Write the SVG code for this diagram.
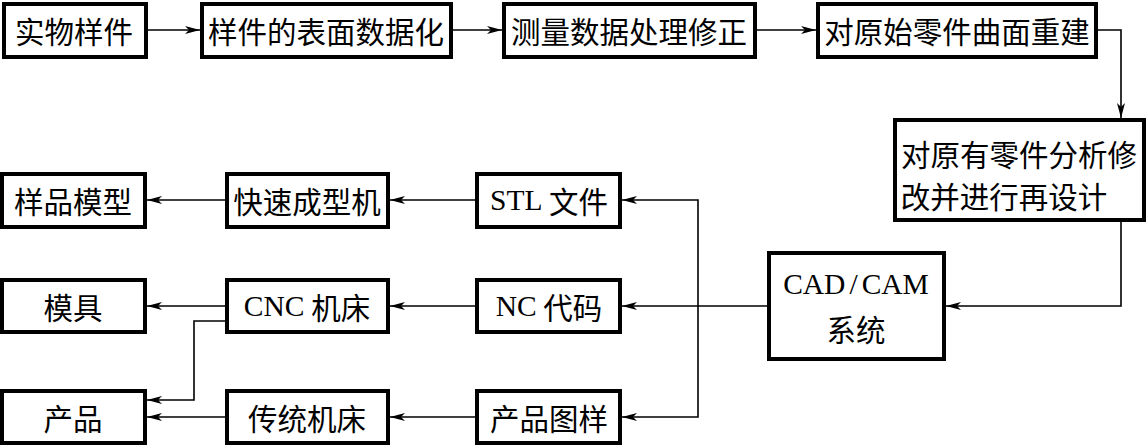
<svg xmlns="http://www.w3.org/2000/svg" width="1148" height="447" viewBox="0 0 1148 447">
<style>
.box{fill:#fff;stroke:#000;stroke-width:4}
.t{font-family:"Noto Sans CJK SC","Liberation Serif",sans-serif;font-size:29.5px;fill:#000;text-anchor:middle;dominant-baseline:central}
.l{font-family:"Liberation Serif","Noto Sans CJK SC",serif}
.c{fill:none;stroke:#000;stroke-width:1.6}
</style>
<defs>
<marker id="ah" markerUnits="userSpaceOnUse" markerWidth="16" markerHeight="10" refX="15" refY="4.5" orient="auto">
<path d="M0,0.5 L15,4.5 L0,8.5 L4,4.5 z" fill="#000"/>
</marker>
</defs>
<rect width="1148" height="447" fill="#fff"/>
<g id="connectors">
<path class="c" marker-end="url(#ah)" d="M148,30 H200"/>
<path class="c" marker-end="url(#ah)" d="M453,30 H502"/>
<path class="c" marker-end="url(#ah)" d="M757,30 H816"/>
<path class="c" marker-end="url(#ah)" d="M1098,30 H1121 V118"/>
<path class="c" marker-end="url(#ah)" d="M1121,222 V306 H946"/>
<path class="c" marker-end="url(#ah)" d="M767,306 H622"/>
<path class="c" marker-end="url(#ah)" d="M698,306 V200 H622"/>
<path class="c" marker-end="url(#ah)" d="M698,306 V417 H622"/>
<path class="c" marker-end="url(#ah)" d="M475,200 H390"/>
<path class="c" marker-end="url(#ah)" d="M225,200 H147"/>
<path class="c" marker-end="url(#ah)" d="M475,306 H390"/>
<path class="c" marker-end="url(#ah)" d="M225,306 H147"/>
<path class="c" marker-end="url(#ah)" d="M225,321 H194 V400 H147"/>
<path class="c" marker-end="url(#ah)" d="M475,417 H390"/>
<path class="c" marker-end="url(#ah)" d="M225,417 H147"/>
</g>
<g id="n1"><rect class="box" x="4" y="4" width="142" height="53"/><text class="t" x="74" y="30">实物样件</text></g>
<g id="n2"><rect class="box" x="202" y="4" width="249" height="53"/><text class="t" x="326" y="30">样件的表面数据化</text></g>
<g id="n3"><rect class="box" x="504" y="4" width="251" height="53"/><text class="t" x="629" y="30">测量数据处理修正</text></g>
<g id="n4"><rect class="box" x="818" y="4" width="278" height="53"/><text class="t" x="957" y="30">对原始零件曲面重建</text></g>
<g id="n5"><rect class="box" x="895" y="120" width="249" height="100"/><text class="t" x="1019" y="153">对原有零件分析修</text><text class="t" x="1004" y="195">改并进行再设计</text></g>
<g id="n6"><rect class="box" x="769" y="253" width="175" height="106"/><text class="t l" x="856" y="284" font-size="31">CAD<tspan dx="4">/</tspan><tspan dx="4">CAM</tspan></text><text class="t" x="856" y="328">系统</text></g>
<g id="n7"><rect class="box" x="477" y="174" width="143" height="53"/><text class="t" x="549" y="200"><tspan class="l">STL</tspan> 文件</text></g>
<g id="n8"><rect class="box" x="227" y="174" width="161" height="53"/><text class="t" x="307" y="200">快速成型机</text></g>
<g id="n9"><rect class="box" x="2" y="174" width="143" height="53"/><text class="t" x="73" y="200">样品模型</text></g>
<g id="n10"><rect class="box" x="477" y="280" width="143" height="52"/><text class="t" x="549" y="306"><tspan class="l">NC</tspan> 代码</text></g>
<g id="n11"><rect class="box" x="227" y="280" width="161" height="52"/><text class="t" x="307" y="306"><tspan class="l">CNC</tspan> 机床</text></g>
<g id="n12"><rect class="box" x="2" y="280" width="143" height="52"/><text class="t" x="73" y="306">模具</text></g>
<g id="n13"><rect class="box" x="477" y="391" width="143" height="52"/><text class="t" x="549" y="417">产品图样</text></g>
<g id="n14"><rect class="box" x="227" y="391" width="161" height="52"/><text class="t" x="307" y="417">传统机床</text></g>
<g id="n15"><rect class="box" x="2" y="391" width="143" height="52"/><text class="t" x="73" y="417">产品</text></g>
</svg>
